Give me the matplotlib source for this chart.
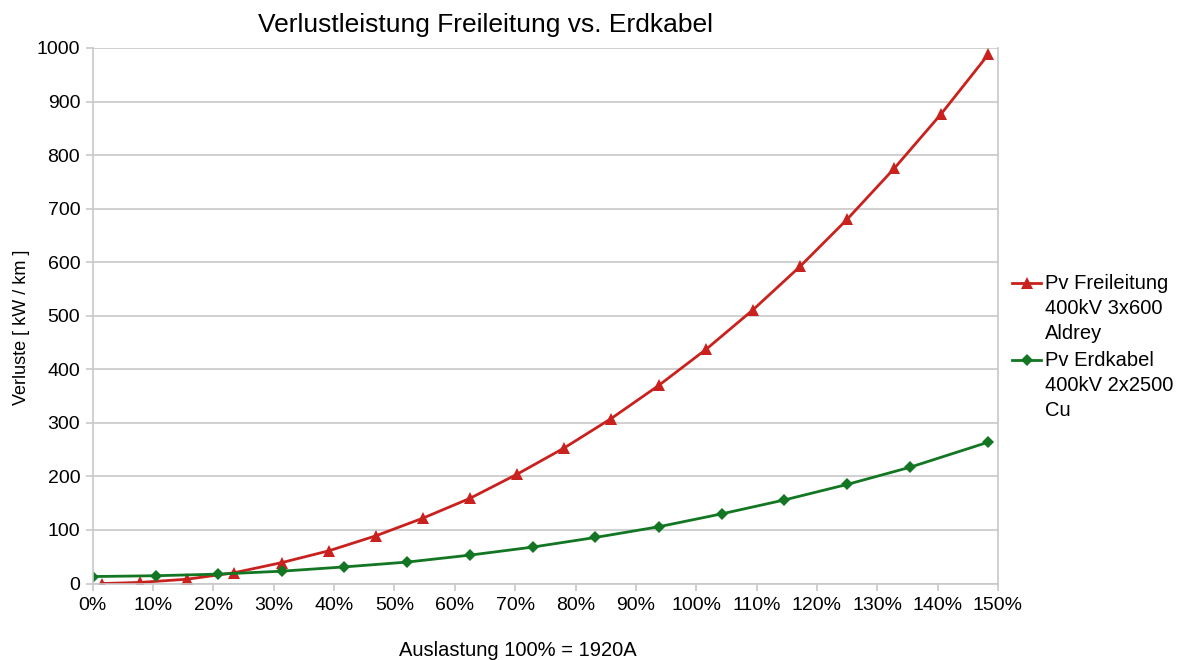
import matplotlib
matplotlib.use("Agg")
import matplotlib.pyplot as plt
from matplotlib.lines import Line2D
from matplotlib.ticker import FuncFormatter

plt.rcParams['font.family'] = ['Liberation Sans', 'DejaVu Sans']

# Auslastung in % (I / 1920A), Verluste in kW/km
load_freileitung = [1.6, 7.8, 15.6, 23.4, 31.3, 39.1, 46.9, 54.7, 62.5, 70.3,
                    78.1, 85.9, 93.8, 101.6, 109.4, 117.2, 125.0, 132.8, 140.6, 148.4]
pv_freileitung = [0, 2, 8, 20, 39, 61, 89, 122, 159, 204,
                  253, 308, 370, 437, 511, 592, 680, 775, 877, 988]

load_erdkabel = [0, 10.4, 20.8, 31.3, 41.7, 52.1, 62.5, 72.9, 83.3, 93.8,
                 104.2, 114.6, 125.0, 135.4, 148.4]
pv_erdkabel = [13, 14.5, 17.5, 23, 31, 40, 53, 68, 86, 106,
               130, 156, 185, 217, 264]

label_freileitung = "Pv Freileitung\n400kV 3x600\nAldrey"
label_erdkabel = "Pv Erdkabel\n400kV 2x2500\nCu"

red = "#C9211E"
green = "#127622"
grid_col = "#C8C8C8"

W, H = 1183, 660
fig = plt.figure(figsize=(W / 100, H / 100), dpi=100)
ax = fig.add_axes([0.0784, 0.1159, 0.7652, 0.8114])

ax.plot(load_freileitung, pv_freileitung, color=red, lw=2.0, marker="^", ms=9,
        markeredgewidth=0)
ax.plot(load_erdkabel, pv_erdkabel, color=green, lw=2.0, marker="D", ms=6,
        markeredgewidth=0)

ax.set_xlim(0, 150)
ax.set_ylim(0, 1000)
ax.set_xticks(range(0, 151, 10))
ax.set_yticks(range(0, 1001, 100))
ax.xaxis.set_major_formatter(FuncFormatter(lambda v, p: "%d%%" % v))
ax.grid(axis="y", color=grid_col, lw=1.2)
ax.set_axisbelow(True)
for s in ["left", "bottom", "right"]:
    ax.spines[s].set_color(grid_col)
    ax.spines[s].set_linewidth(1.2)
ax.spines["top"].set_visible(False)
ax.tick_params(axis="both", colors=grid_col, labelcolor="black", labelsize=14,
               length=5, width=1.2)
ax.tick_params(axis="x", pad=5)
ax.tick_params(axis="y", pad=4)

fig.text(485 / W, 1 - 32 / H, "Verlustleistung Freileitung vs. Erdkabel",
         fontsize=19, ha="center", va="baseline")
ax.set_ylabel("Verluste [ kW / km ]", fontsize=13)
ax.yaxis.set_label_coords(-0.069, 0.479)
ax.set_xlabel("Auslastung 100% = 1920A", fontsize=14.5)
ax.xaxis.set_label_coords(0.47, -0.108)

# legend to the right of the plot, handle beside the first text line
for y_px, col, mk, ms, lab in [(283, red, "^", 9, label_freileitung),
                               (360, green, "D", 6, label_erdkabel)]:
    fig.add_artist(Line2D([1012 / W, 1041 / W], [1 - y_px / H, 1 - y_px / H],
                          color=col, lw=2.0))
    fig.add_artist(Line2D([1026.5 / W], [1 - y_px / H], color=col, marker=mk,
                          ms=ms, markeredgewidth=0))
    fig.text(1045 / W, 1 - (y_px - 9) / H, lab, fontsize=14.5, va="top",
             ha="left", linespacing=1.4)

fig.savefig("out.png", dpi=100)
